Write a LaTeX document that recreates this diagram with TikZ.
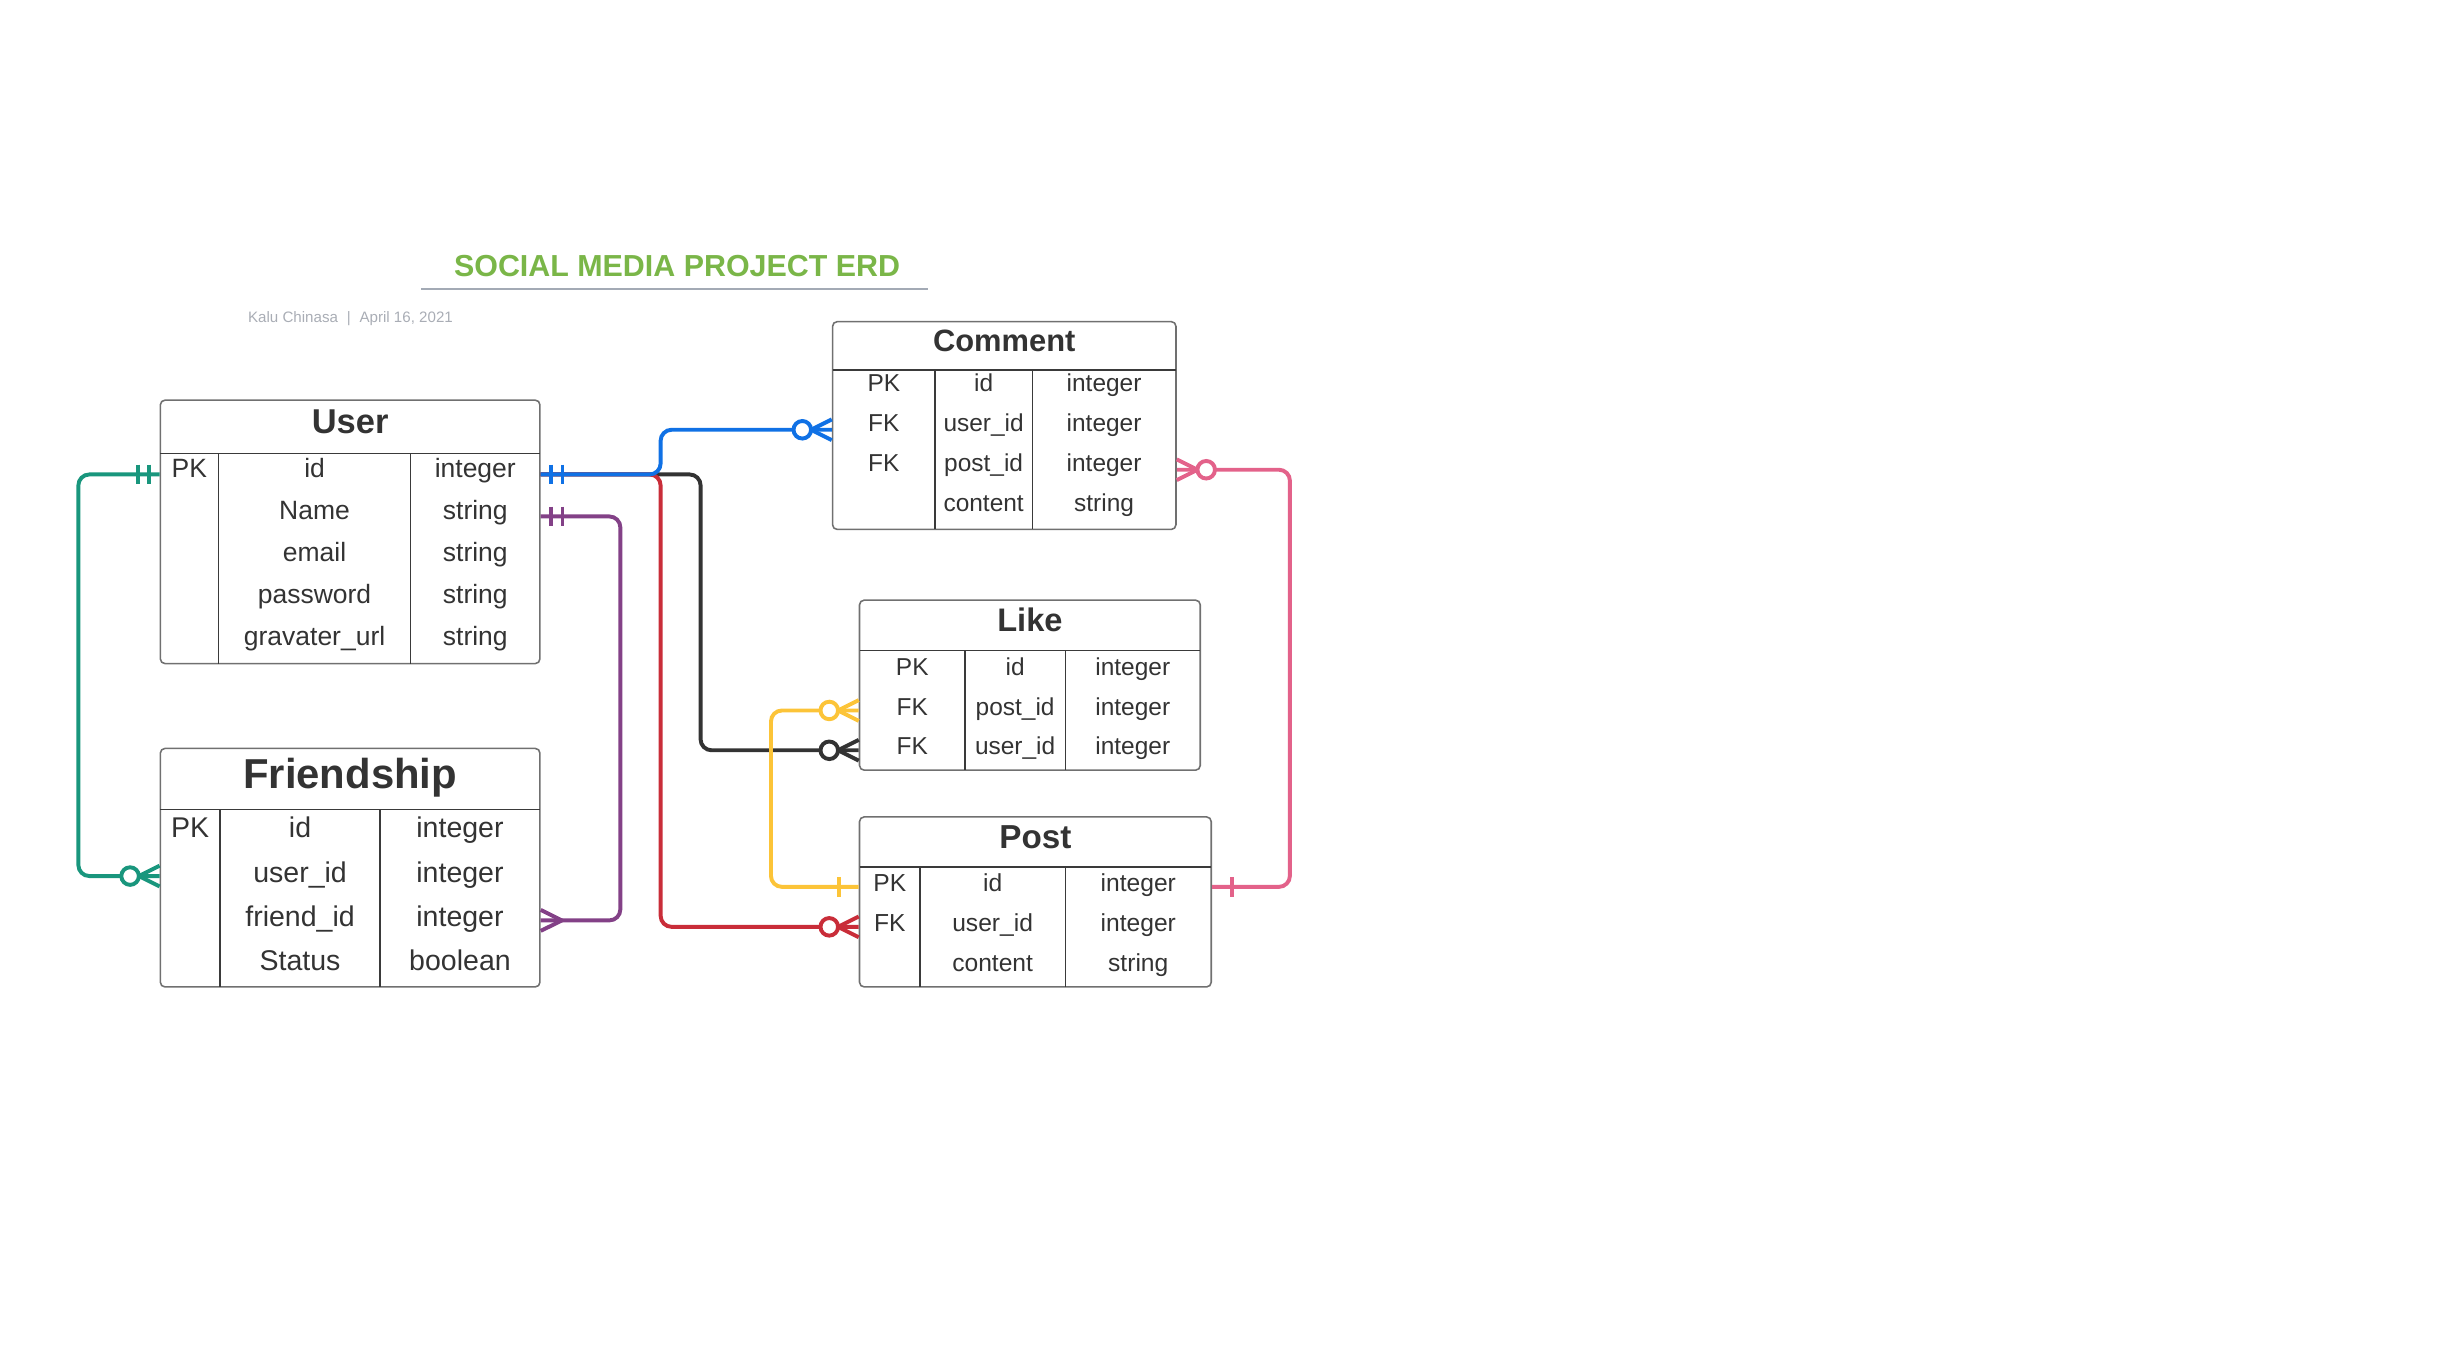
\documentclass[tikz,border=0pt]{standalone}
\usepackage{fontspec}
\setmainfont{Liberation Sans}
\usetikzlibrary{positioning, calc, arrows.meta}

\definecolor{ttlgreen}{HTML}{7AB648}
\definecolor{ulgray}{HTML}{A3AAB5}
\definecolor{authgray}{HTML}{A9ADB5}
\definecolor{txtdark}{HTML}{333333}
\definecolor{boxgray}{HTML}{707070}
\definecolor{linedark}{HTML}{3A3A3A}
\definecolor{rgreen}{HTML}{19967D}
\definecolor{rblue}{HTML}{1071E5}
\definecolor{rblack}{HTML}{333333}
\definecolor{rred}{HTML}{C92D39}
\definecolor{rpurple}{HTML}{834187}
\definecolor{ryellow}{HTML}{FCC438}
\definecolor{rpink}{HTML}{E3628A}

\begin{document}
\begin{tikzpicture}[x=1pt, y=-1pt,
    tbl/.style={draw=boxgray, line width=1pt, rounded corners=3pt, inner sep=0pt},
    rowtxt/.style={inner sep=0pt, text depth=0pt, text=txtdark, anchor=center},
    ucell/.style={rowtxt, font=\fontsize{16.9}{20}\selectfont, text height=3.8pt},
    fcell/.style={rowtxt, font=\fontsize{18.2}{22}\selectfont, text height=7.6pt},
    ccell/.style={rowtxt, font=\fontsize{15.6}{19}\selectfont, text height=2.6pt},
    lcell/.style={rowtxt, font=\fontsize{15.6}{19}\selectfont, text height=5.8pt},
    pcell/.style={rowtxt, font=\fontsize{15.7}{19}\selectfont, text height=6.2pt},
    hdr/.style n args={2}{rowtxt, font=\bfseries\fontsize{#1}{#1}\selectfont, text height=#2},
    sep/.style={draw=linedark, line width=0.8pt},
    rel/.style={line width=2.5pt, rounded corners=7pt},
    endmark/.style={line width=2.5pt},
    oneone/.pic={\draw (6.5,-6.2) -- (6.5,6.2) (13.9,-6.2) -- (13.9,6.2);},
    onebar/.pic={\draw (12.6,-6.4) -- (12.6,6.4);},
    crow/.pic={\draw (0,-6.7) -- (13.5,0) -- (0,6.7);},
    zerocrow/.pic={\draw (0,-6.6) -- (13.2,0) -- (0,6.6);
                   \draw[fill=white] (18.8,0) circle[radius=5.6pt];}]

    \useasboundingbox (0,0) rectangle (1560,867.7);

    % Title
    \node[anchor=base, inner sep=0pt, text=ttlgreen, font=\bfseries\fontsize{19.4}{22}\selectfont] (title) at (432,176.6) {SOCIAL MEDIA PROJECT ERD};
    \draw[ulgray, line width=1.1pt] (268.6,184.5) -- (592.4,184.5);
    \node[anchor=base west, inner sep=0pt, text=authgray, font=\fontsize{9.65}{12}\selectfont] (author) at (158.1,206) {Kalu Chinasa\hspace{5.6pt}|\hspace{5.6pt}April 16, 2021};

    % User
    \node[tbl, minimum width=242.2pt, minimum height=168.1pt] (user) at (223.4,339.35) {};
    \draw[sep] (102.3,289.3) -- (344.5,289.3);
    \draw[sep] (139.4,289.3) -- (139.4,423.4);
    \draw[sep] (262.0,289.3) -- (262.0,423.4);
    \node[hdr={22}{9pt}] (user-h) at (223.4,272.3) {User};
    \node[ucell] (u1k) at (120.85,302.7) {PK};
    \node[ucell] (u1n) at (200.7,302.7) {id};          \node[ucell] (u1t) at (303.25,302.7) {integer};
    \node[ucell] (u2n) at (200.7,329.5) {Name};        \node[ucell] (u2t) at (303.25,329.5) {string};
    \node[ucell] (u3n) at (200.7,356.4) {email};       \node[ucell] (u3t) at (303.25,356.4) {string};
    \node[ucell] (u4n) at (200.7,383.2) {password};    \node[ucell] (u4t) at (303.25,383.2) {string};
    \node[ucell] (u5n) at (200.7,410.0) {gravater\_url}; \node[ucell] (u5t) at (303.25,410.0) {string};

    % Friendship
    \node[tbl, minimum width=242.2pt, minimum height=152.2pt] (friend) at (223.4,553.6) {};
    \draw[sep] (102.3,516.5) -- (344.5,516.5);
    \draw[sep] (140.4,516.5) -- (140.4,629.7);
    \draw[sep] (242.5,516.5) -- (242.5,629.7);
    \node[hdr={26.7}{12.4pt}] (friend-h) at (223.4,497) {Friendship};
    \node[fcell] (f1k) at (121.35,530.65) {PK};
    \node[fcell] (f1n) at (191.45,530.65) {id};        \node[fcell] (f1t) at (293.5,530.65) {integer};
    \node[fcell] (f2n) at (191.45,558.95) {user\_id};  \node[fcell] (f2t) at (293.5,558.95) {integer};
    \node[fcell] (f3n) at (191.45,587.25) {friend\_id}; \node[fcell] (f3t) at (293.5,587.25) {integer};
    \node[fcell] (f4n) at (191.45,615.55) {Status};    \node[fcell] (f4t) at (293.5,615.55) {boolean};

    % Comment
    \node[tbl, minimum width=219.1pt, minimum height=132.6pt] (comment) at (640.75,271.5) {};
    \draw[sep] (531.2,236.1) -- (750.3,236.1);
    \draw[sep] (596.6,236.1) -- (596.6,337.8);
    \draw[sep] (658.6,236.1) -- (658.6,337.8);
    \node[hdr={19.7}{7.6pt}] (comment-h) at (640.75,220.7) {Comment};
    \node[ccell] (c1k) at (563.9,248.8) {PK}; \node[ccell] (c1n) at (627.6,248.8) {id};       \node[ccell] (c1t) at (704.45,248.8) {integer};
    \node[ccell] (c2k) at (563.9,274.2) {FK}; \node[ccell] (c2n) at (627.6,274.2) {user\_id}; \node[ccell] (c2t) at (704.45,274.2) {integer};
    \node[ccell] (c3k) at (563.9,299.7) {FK}; \node[ccell] (c3n) at (627.6,299.7) {post\_id}; \node[ccell] (c3t) at (704.45,299.7) {integer};
    \node[ccell] (c4n) at (627.6,325.1) {content};  \node[ccell] (c4t) at (704.45,325.1) {string};

    % Like
    \node[tbl, minimum width=217.4pt, minimum height=108.5pt] (like) at (657.1,437.15) {};
    \draw[sep] (548.4,415.2) -- (765.8,415.2);
    \draw[sep] (615.7,415.2) -- (615.7,491.4);
    \draw[sep] (679.7,415.2) -- (679.7,491.4);
    \node[hdr={20.8}{8.4pt}] (like-h) at (657.1,399) {Like};
    \node[lcell] (l1k) at (582.05,427.9) {PK}; \node[lcell] (l1n) at (647.7,427.9) {id};       \node[lcell] (l1t) at (722.75,427.9) {integer};
    \node[lcell] (l2k) at (582.05,453.3) {FK}; \node[lcell] (l2n) at (647.7,453.3) {post\_id}; \node[lcell] (l2t) at (722.75,453.3) {integer};
    \node[lcell] (l3k) at (582.05,478.7) {FK}; \node[lcell] (l3n) at (647.7,478.7) {user\_id}; \node[lcell] (l3t) at (722.75,478.7) {integer};

    % Post
    \node[tbl, minimum width=224.4pt, minimum height=108.5pt] (post) at (660.6,575.45) {};
    \draw[sep] (548.4,553.1) -- (772.8,553.1);
    \draw[sep] (587.0,553.1) -- (587.0,629.7);
    \draw[sep] (679.7,553.1) -- (679.7,629.7);
    \node[hdr={21.2}{8.6pt}] (post-h) at (660.6,537.2) {Post};
    \node[pcell] (p1k) at (567.7,565.85) {PK}; \node[pcell] (p1n) at (633.35,565.85) {id};       \node[pcell] (p1t) at (726.25,565.85) {integer};
    \node[pcell] (p2k) at (567.7,591.35) {FK}; \node[pcell] (p2n) at (633.35,591.35) {user\_id}; \node[pcell] (p2t) at (726.25,591.35) {integer};
    \node[pcell] (p3n) at (633.35,616.85) {content};  \node[pcell] (p3t) at (726.25,616.85) {string};

    % Relations
    \draw[rel, rblack] (user.east |- u1t) -- ++(102,0) |- (like.west |- l3n);
    \draw[rel, rred] (user.east |- u1t) -- ++(76.5,0) |- (post.west |- p2n);
    \draw[rel, rblue] (user.east |- u1t) -- ++(76.5,0) |- (comment.west |- c2n);
    \draw[rel, rgreen] (user.west |- u1k) -- ++(-51.8,0) |- (friend.west |- f2n);
    \draw[rel, rpurple] (user.east |- u2t) -- ++(50.8,0) |- (friend.east |- f3t);
    \draw[rel, ryellow] (like.west |- l2n) -- ++(-56,0) |- (post.west |- p1n);
    \draw[rel, rpink] (comment.east |- c3t) -- ++(72.2,0) |- (post.east |- p1t);

    % Ends
    \pic[rblue, endmark] at (user.east |- u1t) {oneone};
    \pic[rpurple, endmark] at (user.east |- u2t) {oneone};
    \pic[rgreen, endmark, xscale=-1] at (user.west |- u1k) {oneone};
    \pic[rgreen, endmark, xscale=-1] at (friend.west |- f2n) {zerocrow};
    \pic[rpurple, endmark] at (friend.east |- f3t) {crow};
    \pic[rblue, endmark, xscale=-1] at (comment.west |- c2n) {zerocrow};
    \pic[rpink, endmark] at (comment.east |- c3t) {zerocrow};
    \pic[ryellow, endmark, xscale=-1] at (like.west |- l2n) {zerocrow};
    \pic[rblack, endmark, xscale=-1] at (like.west |- l3n) {zerocrow};
    \pic[ryellow, endmark, xscale=-1] at (post.west |- p1n) {onebar};
    \pic[rred, endmark, xscale=-1] at (post.west |- p2n) {zerocrow};
    \pic[rpink, endmark] at (post.east |- p1t) {onebar};
\end{tikzpicture}
\end{document}
